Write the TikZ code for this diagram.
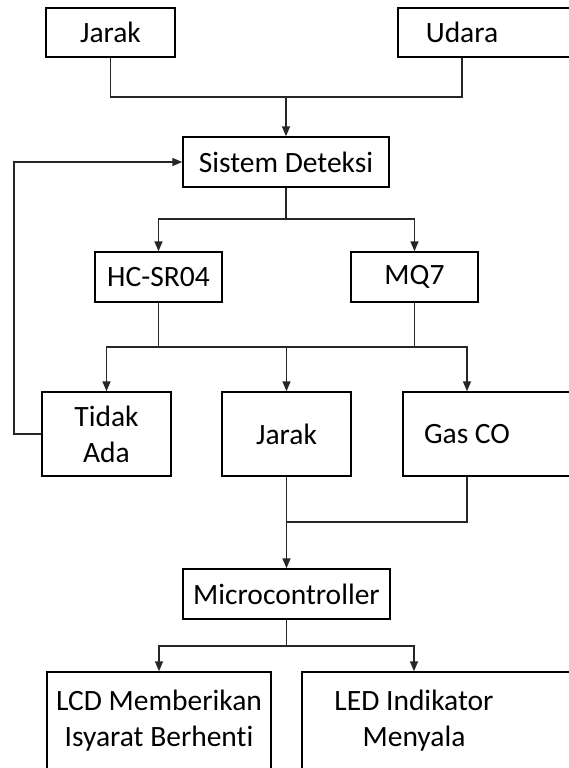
\documentclass[tikz,border=0pt]{standalone}
\usepackage{fontspec}
\setmainfont{Carlito}[Ligatures=NoCommon]
\usetikzlibrary{arrows.meta}
\begin{document}
\begin{tikzpicture}[x=1pt,y=-1pt,
  box/.style={draw=black, line width=1.5pt, inner sep=0pt, align=center,
    font=\fontsize{29.5}{36}\selectfont},
  lbl/.style={inner sep=0pt, align=center, font=\fontsize{29.5}{36}\selectfont},
  conn/.style={draw=black!85, line width=1.5pt},
  arr/.style={conn, -{Triangle[length=10pt,width=8pt]}}]
\useasboundingbox (0,0) rectangle (569,768);
\clip (0,0) rectangle (569,768);
% boxes
\node[box, minimum width=129pt, minimum height=49pt] (jarakA) at (110.5,32.5) {Jarak};
\node[box, minimum width=202pt, minimum height=49pt] (udara) at (499,32.5) {};
\node[lbl] (udaraT) at (462,32.5) {Udara};
\node[box, minimum width=206pt, minimum height=50pt] (sistem) at (286,162) {Sistem Deteksi};
\node[box, minimum width=127pt, minimum height=50pt] (hc) at (158.5,277) {HC-SR04};
\node[box, minimum width=127pt, minimum height=50pt] (mq) at (414.5,277) {MQ7};
\node[box, minimum width=129pt, minimum height=84pt] (tidak) at (106.5,434) {Tidak\\Ada};
\node[box, minimum width=129pt, minimum height=84pt] (jarakB) at (286.5,434) {Jarak};
\node[box, minimum width=197pt, minimum height=84pt] (gas) at (501.5,434) {};
\node[lbl] (gasT) at (467,434) {Gas CO};
\node[box, minimum width=207pt, minimum height=50pt] (micro) at (286.5,594) {Microcontroller};
\node[box, minimum width=224pt, minimum height=98pt] (lcd) at (159,721) {LCD Memberikan\\Isyarat Berhenti};
\node[box, minimum width=298pt, minimum height=98pt] (led) at (451,721) {};
\node[lbl] (ledT) at (414,721) {LED Indikator\\Menyala};
% junction coordinates
\coordinate (m1) at (286,97);
\coordinate (m2) at (286,219);
\coordinate (m3) at (158.5,347);
\coordinate (m4) at (414.5,347);
\coordinate (m5) at (286.5,522);
\coordinate (m6) at (286.5,646);
\coordinate (fb) at (14,434);
% connectors
\draw[conn] (jarakA.south) |- (m1) -| (udaraT |- udara.south);
\draw[arr] (m1) -- (sistem.north);
\draw[arr] (tidak.west) -- (fb) |- (sistem.west);
\draw[conn] (sistem.south) -- (m2);
\draw[arr] (m2) -| (hc.north);
\draw[arr] (m2) -| (mq.north);
\draw[conn] (hc.south) -- (m3);
\draw[conn] (mq.south) -- (m4);
\draw[conn] (m3) -- (m4);
\draw[arr] (m3) -| (tidak.north);
\draw[arr] (m4) -| (gasT |- gas.north);
\draw[arr] (jarakB.north |- m3) -- (jarakB.north);
\draw[conn] (jarakB.south) -- (m5) -| (gasT |- gas.south);
\draw[arr] (m5) -- (micro.north);
\draw[conn] (micro.south) -- (m6);
\draw[arr] (m6) -| (lcd.north);
\draw[arr] (m6) -| (ledT |- led.north);
\end{tikzpicture}
\end{document}
